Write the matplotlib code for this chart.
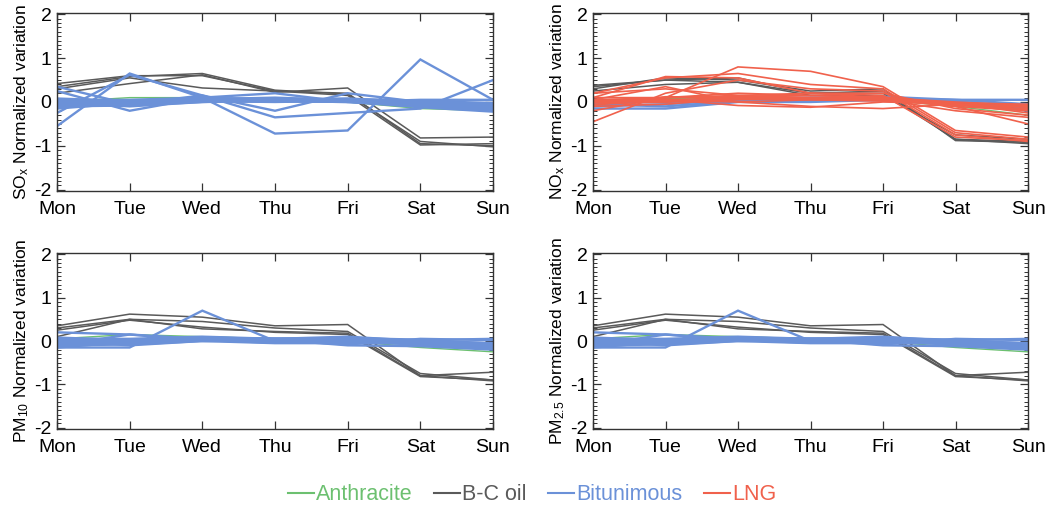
import numpy as np
import matplotlib
matplotlib.use('Agg')
import matplotlib.pyplot as plt
from matplotlib.ticker import MultipleLocator
from matplotlib.lines import Line2D

plt.rcParams['font.family'] = ['Liberation Sans', 'DejaVu Sans']
plt.rcParams['mathtext.default'] = 'regular'

days = ['Mon', 'Tue', 'Wed', 'Thu', 'Fri', 'Sat', 'Sun']
fuels = ['Anthracite', 'B-C oil', 'Bitunimous', 'LNG']
fuel_colors = ['#6cc070', '#5a5a5a', '#6b91d8', '#f0614c']

# ---- SOx ----
sox_green = [[0.0, 0.1, 0.1, 0.05, 0.0, -0.15, -0.2]]
sox_gray = [
    [0.42, 0.60, 0.60, 0.25, 0.20, -0.95, -1.00],
    [0.35, 0.58, 0.65, 0.27, 0.18, -0.90, -1.02],
    [0.20, 0.42, 0.62, 0.22, 0.32, -0.82, -0.80],
    [0.30, 0.55, 0.32, 0.25, 0.15, -0.98, -0.95],
]
sox_blue = [
    [-0.55, 0.65, 0.10, -0.72, -0.65, 0.97, 0.05],
    [0.35, -0.05, 0.15, -0.35, -0.25, -0.15, 0.50],
    [-0.25, 0.62, 0.15, -0.20, 0.20, 0.00, -0.10],
    [0.25, -0.20, 0.10, 0.20, 0.00, -0.10, -0.15],
    [-0.05, -0.02, 0.05, 0.05, 0.02, -0.05, -0.10],
    [0.02, 0.00, 0.08, 0.08, 0.05, -0.02, -0.08],
    [-0.10, -0.08, 0.00, 0.02, 0.00, -0.08, -0.15],
    [0.05, 0.05, 0.10, 0.05, 0.05, 0.02, -0.02],
    [-0.12, -0.05, 0.02, 0.00, 0.03, -0.10, -0.20],
    [0.00, -0.10, 0.00, 0.05, 0.08, 0.00, -0.12],
    [-0.08, 0.02, 0.06, 0.10, 0.04, -0.06, -0.18],
    [0.08, 0.02, 0.03, 0.02, 0.00, 0.05, 0.05],
    [-0.03, -0.05, 0.05, 0.07, 0.06, -0.03, -0.05],
    [-0.15, -0.02, 0.04, 0.03, 0.01, -0.12, -0.22],
    [0.03, -0.06, 0.07, 0.04, 0.02, -0.04, -0.14],
    [-0.06, 0.04, 0.02, 0.06, 0.07, 0.03, -0.06],
]
sox_red = []

# ---- NOx ----
nox_green = [[0.0, 0.08, 0.1, 0.08, 0.05, -0.1, -0.3]]
nox_gray = [
    [0.35, 0.50, 0.55, 0.20, 0.25, -0.85, -0.95],
    [0.30, 0.55, 0.50, 0.25, 0.30, -0.88, -0.92],
    [0.25, 0.40, 0.45, 0.20, 0.20, -0.85, -0.90],
    [0.38, 0.50, 0.45, 0.15, 0.15, -0.75, -0.85],
]
nox_blue = [
    [-0.15, -0.15, 0.00, 0.00, 0.05, 0.00, -0.10],
    [-0.10, -0.05, 0.05, 0.05, 0.08, 0.05, -0.05],
    [0.00, 0.00, 0.08, 0.10, 0.10, 0.02, -0.15],
    [-0.05, -0.10, 0.02, 0.06, 0.04, -0.02, -0.20],
    [0.05, 0.02, 0.06, 0.08, 0.12, 0.05, 0.05],
]
nox_red = [
    [0.00, 0.10, 0.80, 0.70, 0.35, -0.65, -0.80],
    [0.20, 0.55, 0.65, 0.40, 0.30, -0.70, -0.85],
    [-0.45, 0.20, 0.50, 0.30, 0.25, -0.75, -0.90],
    [0.10, 0.58, 0.55, 0.20, 0.15, -0.80, -0.88],
    [0.05, 0.35, 0.00, -0.10, -0.15, -0.05, -0.10],
    [-0.20, 0.10, 0.20, 0.15, 0.10, -0.10, -0.50],
    [0.05, 0.00, 0.10, 0.20, 0.20, -0.15, -0.30],
    [0.20, 0.30, 0.15, 0.10, 0.05, -0.20, -0.35],
    [0.00, 0.05, 0.10, 0.10, 0.05, -0.05, -0.10],
    [-0.05, 0.00, 0.05, 0.10, 0.08, -0.08, -0.15],
    [0.05, 0.10, 0.12, 0.15, 0.10, -0.02, -0.05],
    [-0.10, -0.05, 0.08, 0.05, 0.05, -0.10, -0.20],
    [0.10, 0.10, 0.15, 0.20, 0.10, 0.00, -0.08],
    [-0.02, 0.03, 0.00, 0.05, 0.02, -0.05, -0.12],
    [0.03, 0.06, -0.08, -0.12, 0.00, -0.03, -0.25],
    [-0.08, 0.12, 0.10, 0.08, 0.12, -0.06, -0.18],
]

# ---- PM10 ----
pm10_green = [[0.05, 0.15, 0.10, 0.05, 0.00, -0.15, -0.25]]
pm10_gray = [
    [0.35, 0.62, 0.55, 0.35, 0.38, -0.80, -0.72],
    [0.30, 0.50, 0.45, 0.30, 0.22, -0.75, -0.90],
    [0.25, 0.48, 0.32, 0.20, 0.15, -0.82, -0.90],
    [0.10, 0.50, 0.28, 0.22, 0.18, -0.80, -0.92],
]
pm10_blue = [
    [-0.15, -0.15, 0.70, 0.00, 0.00, -0.05, -0.10],
    [0.20, 0.15, 0.05, 0.05, 0.10, 0.00, -0.05],
    [-0.10, 0.15, 0.00, -0.05, -0.05, -0.05, -0.10],
    [-0.05, -0.02, 0.05, 0.03, 0.02, -0.05, -0.10],
    [0.02, 0.00, 0.08, 0.05, 0.05, -0.02, -0.08],
    [-0.10, -0.08, 0.00, 0.00, 0.00, -0.08, -0.15],
    [0.05, 0.05, 0.10, 0.05, 0.05, 0.02, 0.05],
    [-0.12, -0.05, 0.02, 0.00, 0.03, -0.10, -0.18],
    [0.00, -0.10, 0.00, 0.02, 0.08, 0.00, -0.12],
    [-0.08, 0.02, 0.06, 0.06, 0.04, -0.06, -0.15],
    [0.08, 0.02, 0.03, 0.02, -0.08, 0.05, 0.02],
    [-0.03, -0.05, 0.05, 0.04, 0.06, -0.03, -0.05],
    [-0.15, -0.02, 0.04, 0.03, -0.10, -0.12, -0.20],
    [0.03, -0.06, 0.07, 0.04, 0.02, -0.04, -0.14],
    [-0.06, 0.04, 0.02, -0.04, 0.07, 0.03, -0.06],
]
pm10_red = []

# ---- PM2.5 (same pattern as PM10) ----
pm25_green = [row[:] for row in pm10_green]
pm25_gray = [row[:] for row in pm10_gray]
pm25_blue = [row[:] for row in pm10_blue]
pm25_red = []

ylabels = [r'SO$_{x}$ Normalized variation', r'NO$_{x}$ Normalized variation',
           r'PM$_{10}$ Normalized variation', r'PM$_{2.5}$ Normalized variation']

panels = [
    (sox_green, sox_gray, sox_blue, sox_red),
    (nox_green, nox_gray, nox_blue, nox_red),
    (pm10_green, pm10_gray, pm10_blue, pm10_red),
    (pm25_green, pm25_gray, pm25_blue, pm25_red),
]

W, H = 1048, 513
fig = plt.figure(figsize=(W / 100, H / 100), dpi=100)

# axes boxes in pixels: left, top, right, bottom
boxes = [(57, 13, 493, 191), (593, 13, 1028, 191),
         (57, 253, 493, 429), (593, 253, 1028, 429)]

x = np.arange(len(days))
for box, groups, ylab in zip(boxes, panels, ylabels):
    l, t, r, b = box
    ax = fig.add_axes([l / W, 1 - b / H, (r - l) / W, (b - t) / H])
    for series, col, lw in zip(groups, fuel_colors, [1.0, 1.1, 1.7, 1.2]):
        for s in series:
            ax.plot(x, s, color=col, lw=lw, solid_joinstyle='miter')
    ax.set_xlim(0, 6)
    ax.set_ylim(-2.03, 2.03)
    ax.set_xticks(x)
    ax.set_xticklabels(days, fontsize=14)
    ax.set_yticks([-2, -1, 0, 1, 2])
    ax.set_yticklabels(['-2', '-1', '0', '1', '2'], fontsize=14)
    ax.yaxis.set_minor_locator(MultipleLocator(0.1))
    ax.tick_params(which='both', direction='in', top=True, right=True, color='#333333')
    ax.tick_params(which='major', length=6, width=0.9)
    ax.tick_params(axis='x', which='major', pad=7)
    ax.tick_params(axis='y', which='major', pad=4)
    ax.tick_params(which='minor', length=3, width=0.7)
    ax.tick_params(axis='x', which='minor', top=False, bottom=False)
    for sp in ax.spines.values():
        sp.set_linewidth(1.0)
        sp.set_color('#333333')
    ax.set_ylabel(ylab, fontsize=12.5, labelpad=2)

handles = [Line2D([], [], color=c, lw=1.5) for c in fuel_colors]
leg = fig.legend(handles, fuels, loc='center', bbox_to_anchor=(532 / W, 1 - 495 / H),
                 ncol=4, frameon=False, fontsize=15.5, handlelength=1.2,
                 handletextpad=0.1, columnspacing=1.0)
for txt, c in zip(leg.get_texts(), fuel_colors):
    txt.set_color(c)

fig.savefig('out.png', dpi=100)
